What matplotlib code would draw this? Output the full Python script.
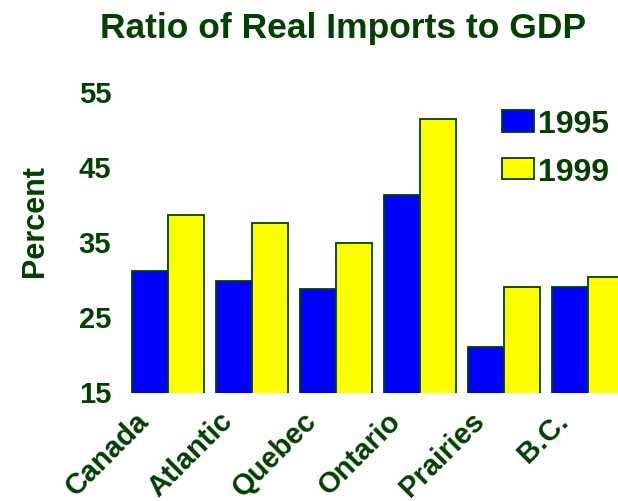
import numpy as np
import matplotlib
matplotlib.use('Agg')
import matplotlib.pyplot as plt
from matplotlib.transforms import ScaledTranslation

plt.rcParams['font.family'] = ['Liberation Sans', 'DejaVu Sans']
plt.rcParams['font.weight'] = 'bold'

# Datos
regiones = ['Canada', 'Atlantic', 'Quebec', 'Ontario', 'Prairies', 'B.C.']
valores_1995 = [31.3, 30.0, 28.9, 41.4, 21.2, 29.2]
valores_1999 = [38.8, 37.7, 35.0, 51.6, 29.2, 30.5]
ticks_y = [15, 25, 35, 45, 55]

verde = '#004000'
ancho = 0.43
x = np.arange(len(regiones))

fig = plt.figure(figsize=(6.18, 5.02), dpi=100)
ax = fig.add_axes([125 / 618, 108 / 502, 493 / 618, 300 / 502])

ax.bar(x - ancho / 2, valores_1995, ancho, color='#0000ff',
       edgecolor=verde, linewidth=1.3, label='1995')
ax.bar(x + ancho / 2, valores_1999, ancho, color='#ffff00',
       edgecolor=verde, linewidth=1.3, label='1999')

ax.set_xlim(-0.515, 5.354)
ax.set_ylim(15, 55)
ax.set_yticks(ticks_y)
ax.set_yticklabels([str(t) for t in ticks_y], fontsize=21, color=verde,
                   fontweight='bold')
ax.set_xticks(x)
ax.set_xticklabels(regiones, fontsize=21, color=verde, fontweight='bold',
                   rotation=45, ha='right', va='top', rotation_mode='anchor')
ax.tick_params(axis='x', length=0, pad=0)
ax.tick_params(axis='y', length=0, pad=10)
for s in ax.spines.values():
    s.set_visible(False)

# desplazar etiquetas
desp_x = ScaledTranslation(-34 / 100, -13 / 100, fig.dpi_scale_trans)
for lab in ax.get_xticklabels():
    lab.set_transform(lab.get_transform() + desp_x)
desp_y = ScaledTranslation(0, 2 / 100, fig.dpi_scale_trans)
for lab in ax.get_yticklabels():
    lab.set_transform(lab.get_transform() + desp_y)

fig.text(35 / 618, 1 - 221 / 502, 'Percent', fontsize=22, color=verde,
         fontweight='bold', rotation=90, ha='center', va='center')
fig.text(343 / 618, 1 - 29 / 502, 'Ratio of Real Imports to GDP',
         fontsize=25.5, color=verde, fontweight='bold',
         ha='center', va='center')

leg = ax.legend(loc='upper left', bbox_to_anchor=(502 / 618, 1 - 110 / 502),
                bbox_transform=fig.transFigure, frameon=False, fontsize=23,
                handlelength=1.0, handleheight=0.66, handletextpad=0.12,
                labelspacing=0.55, borderpad=0, borderaxespad=0)
for t in leg.get_texts():
    t.set_color(verde)
    t.set_fontweight('bold')

plt.savefig('out.png', dpi=100)
